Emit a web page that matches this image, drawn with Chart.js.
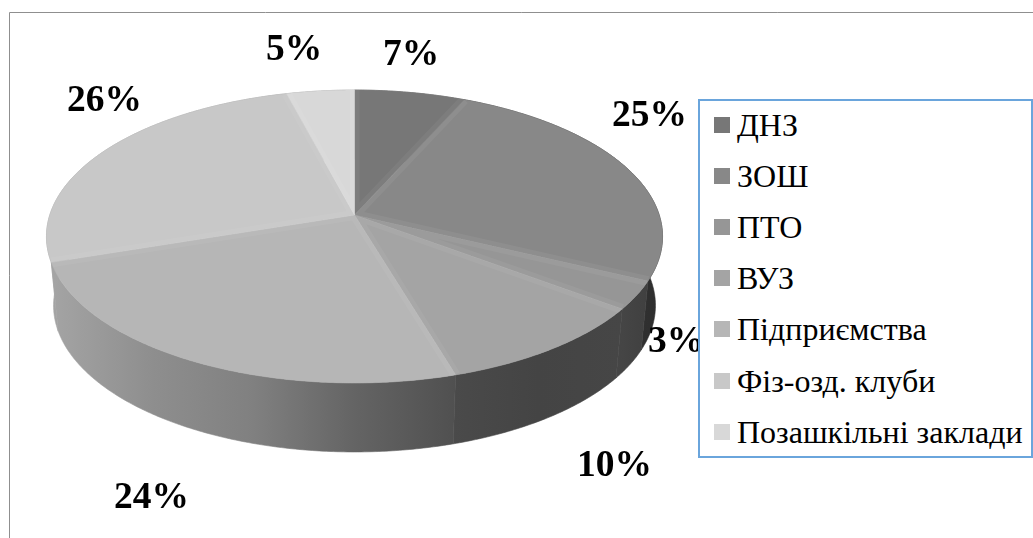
<!DOCTYPE html>
<html lang="uk">
<head>
<meta charset="utf-8">
<title>Pie</title>
<script src="https://cdn.jsdelivr.net/npm/chart.js@4"></script>
<style>
  html, body { margin: 0; padding: 0; background: #fff; }
  #wrap { position: relative; width: 1033px; height: 538px; overflow: hidden; }
  #pie { position: absolute; left: 0; top: 0; }
  #legend {
    position: absolute; left: 698px; top: 99px; width: 331px; height: 355px;
    background: #fff; border: 2px solid #6aa5dc; box-sizing: content-box;
    font-family: "Liberation Serif", serif; font-size: 32px; color: #000;
  }
  #legend div { position: absolute; left: 37px; white-space: nowrap; line-height: 32px; }
  #legend i { position: absolute; left: -23px; top: 8px; width: 16px; height: 16px; }
</style>
</head>
<body>
<div id="wrap">
  <canvas id="pie" width="1033" height="538"></canvas>
  <div id="legend"></div>
</div>
<script>
  const categories = ['ДНЗ', 'ЗОШ', 'ПТО', 'ВУЗ', 'Підприємства', 'Фіз-озд. клуби', 'Позашкільні заклади'];
  // printed labels
  const percentLabels = ['7%', '25%', '3%', '10%', '24%', '26%', '5%'];
  const sliceValues = [6.7, 25.4, 3.1, 10.2, 24.5, 26, 4.1];

  // slice + legend greys
  const topColors = ['#777777', '#888888', '#969696', '#a4a4a4', '#b6b6b6', '#c8c8c8', '#d8d8d8'];
  // side wall shading, left to right inside each slice
  const sideColors = [
    ['#777777', '#777777'],
    ['#3e3e3e', '#2e2e2e'],
    ['#464646', '#404040'],
    ['#4a4a4a', '#444444', '#464646'],
    ['#a4a4a4', '#8e8e8e', '#808080', '#646464', '#505050'],
    ['#a4a4a4', '#a0a0a0'],
    ['#999999', '#999999']
  ];
  // where the percent labels sit (left x, baseline y)
  const labelSpots = [[383, 65], [612, 126], [648, 352], [577, 476], [114, 508], [67, 111], [266, 60]];

  // perspective of the disc: apex, half axes, tilt and wall depth
  const cx = 354.5, cy = 215, ax = 304.7, ay = 143.3, tilt = 0.1468;
  const depth = 69, bottomScale = 0.977;

  function rim(angle, bottom) {
    const u = Math.cos(angle), v = Math.sin(angle);
    const w = 1 - tilt * v;
    return {
      x: cx + ax * (bottom ? bottomScale : 1) * u / w,
      y: cy + (bottom ? depth : 0) + ay * v / w
    };
  }

  function tracePath(ctx, from, to, bottom, first) {
    const steps = Math.max(2, Math.ceil(Math.abs(to - from) / 0.01));
    for (let i = 0; i <= steps; i++) {
      const p = rim(from + (to - from) * i / steps, bottom);
      if (first && i === 0) ctx.moveTo(p.x, p.y); else ctx.lineTo(p.x, p.y);
    }
  }

  const disc3d = {
    id: 'disc3d',
    beforeDatasetDraw(chart) {
      const ctx = chart.ctx;
      const arcs = chart.getDatasetMeta(0).data;

      // outer frame
      ctx.save();
      ctx.strokeStyle = '#8f8f8f';
      ctx.lineWidth = 1;
      ctx.beginPath();
      ctx.moveTo(9.5, 538);
      ctx.lineTo(9.5, 12.5);
      ctx.lineTo(1033, 12.5);
      ctx.stroke();

      // side walls first, top faces cover what is behind
      arcs.forEach((arc, i) => {
        ctx.beginPath();
        tracePath(ctx, arc.startAngle, arc.endAngle, false, true);
        tracePath(ctx, arc.endAngle, arc.startAngle, true, false);
        ctx.closePath();
        const xs = [];
        for (let t = arc.startAngle; t <= arc.endAngle; t += 0.01) {
          xs.push(rim(t).x, rim(t, true).x);
        }
        const g = ctx.createLinearGradient(Math.min(...xs), 0, Math.max(...xs), 0);
        sideColors[i].forEach((c, k) => g.addColorStop(k / (sideColors[i].length - 1), c));
        ctx.fillStyle = g;
        ctx.strokeStyle = g;
        ctx.lineWidth = 0.6;
        ctx.fill();
        ctx.stroke();
      });

      // top faces
      arcs.forEach((arc, i) => {
        const a = rim(arc.startAngle), b = rim(arc.endAngle);
        ctx.save();
        ctx.beginPath();
        ctx.moveTo(cx, cy);
        tracePath(ctx, arc.startAngle, arc.endAngle, false, false);
        ctx.closePath();
        ctx.fillStyle = topColors[i];
        ctx.strokeStyle = topColors[i];
        ctx.lineWidth = 0.6;
        ctx.fill();
        ctx.stroke();
        // soft bevel along the straight slice edges
        ctx.clip();
        ctx.beginPath();
        ctx.moveTo(a.x, a.y);
        ctx.lineTo(cx, cy);
        ctx.lineTo(b.x, b.y);
        ctx.strokeStyle = 'rgba(255,255,255,0.05)';
        ctx.lineWidth = 10;
        ctx.stroke();
        ctx.restore();
      });
      ctx.restore();
      return false;
    },
    afterDatasetsDraw(chart) {
      const ctx = chart.ctx;
      ctx.save();
      ctx.font = 'bold 37.5px "Liberation Serif", serif';
      ctx.fillStyle = '#000';
      ctx.textBaseline = 'alphabetic';
      percentLabels.forEach((s, i) => ctx.fillText(s, labelSpots[i][0], labelSpots[i][1]));
      ctx.restore();
    }
  };

  const chart = new Chart(document.getElementById('pie').getContext('2d'), {
    type: 'pie',
    data: {
      labels: categories,
      datasets: [{ data: sliceValues, backgroundColor: topColors, borderWidth: 0 }]
    },
    options: {
      responsive: false,
      animation: false,
      plugins: {
        legend: { display: false },
        tooltip: { enabled: false }
      }
    },
    plugins: [disc3d]
  });

  // html legend, built from the chart's own legend items
  const legendBox = document.getElementById('legend');
  chart.options.plugins.legend.labels.generateLabels(chart).forEach((item, i) => {
    const row = document.createElement('div');
    row.style.top = (8 + i * 51.1) + 'px';
    const swatch = document.createElement('i');
    swatch.style.background = item.fillStyle;
    row.appendChild(swatch);
    row.appendChild(document.createTextNode(item.text));
    legendBox.appendChild(row);
  });
</script>
</body>
</html>
